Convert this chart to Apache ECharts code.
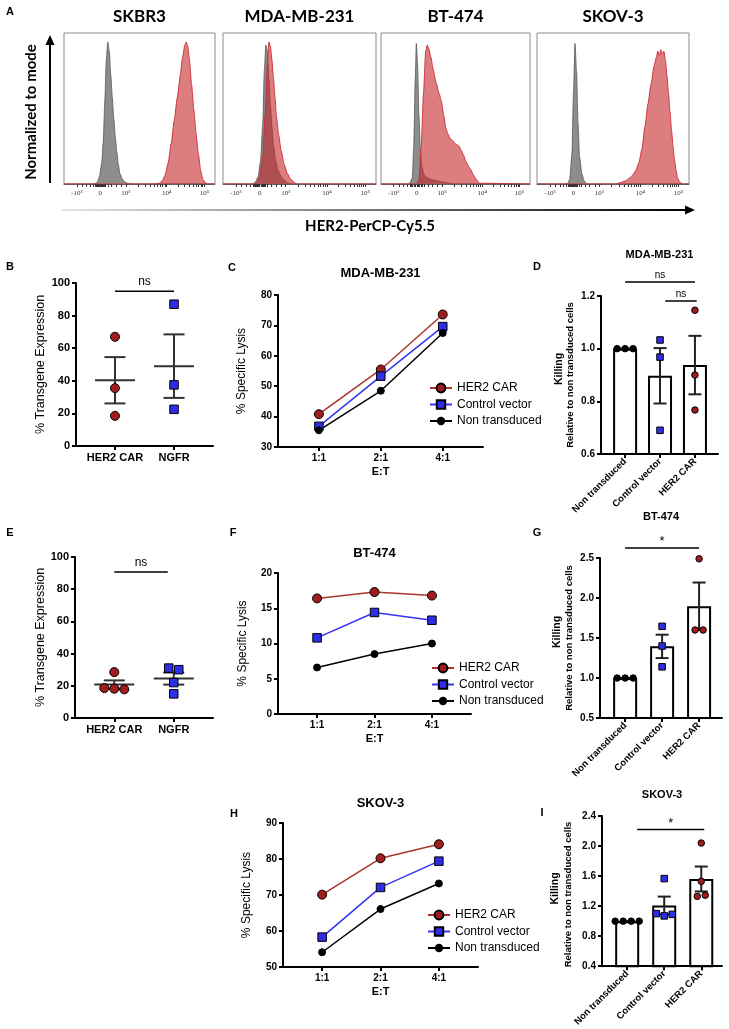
<!DOCTYPE html>
<html><head><meta charset="utf-8">
<script src="https://cdn.jsdelivr.net/npm/echarts@6/dist/echarts.min.js"></script>
<style>html,body{margin:0;padding:0;background:#fff}#c{width:729px;height:1029px}</style>
</head><body><div id="c"></div>
<script>
// ================= DATA =================
// Panel A: flow histograms (x = display position 0-100 across the plot, y = % of mode)
const cellLines = ['SKBR3', 'MDA-MB-231', 'BT-474', 'SKOV-3'];
const histTickPos = [8.5, 24, 41, 68, 93];
const histTickLabels = ['-10³', '0', '10³', '10⁴', '10⁵'];

const skbr3IsoX = [0, 20, 22, 23.5, 25, 26, 27, 28, 29, 30, 31, 32, 33, 34, 35, 36, 37, 38.5, 40, 42, 45, 100];
const skbr3IsoY = [0, 0, 1, 5, 14, 28, 54, 82, 94, 88, 72, 57, 43, 31, 21, 13, 7, 3.5, 1.5, 0.5, 0, 0];
const skbr3Her2X = [0, 60, 63, 65, 67, 69, 71, 73, 75, 77, 78.5, 80, 81, 82, 83, 84.5, 86, 87.5, 89, 90.5, 92, 93.5, 95, 100];
const skbr3Her2Y = [0, 0, 0.5, 2, 6, 14, 27, 42, 57, 72, 84, 92, 94, 91, 83, 66, 49, 33, 20, 9, 3, 1, 0, 0];

const mdaIsoX = [0, 19, 21, 23, 24.5, 26, 27, 28, 29, 30, 31, 32, 33, 34.5, 36, 38, 40, 42, 44, 100];
const mdaIsoY = [0, 0, 1, 5, 15, 40, 75, 92, 88, 70, 52, 38, 25, 15, 9, 5, 2.5, 1, 0, 0];
const mdaHer2X = [0, 20, 22, 24, 26, 27.5, 29, 30, 31, 32, 33, 34, 35, 36.5, 38, 40, 42, 44, 46, 48, 100];
const mdaHer2Y = [0, 0, 1, 5, 18, 45, 80, 94, 91, 82, 70, 57, 44, 32, 22, 13, 7, 3.5, 1.5, 0, 0];

const btIsoX = [0, 19, 21, 22, 23, 23.7, 24.5, 25.5, 26.5, 27.5, 29, 31, 34, 38, 43, 48, 100];
const btIsoY = [0, 0, 4, 25, 70, 93, 80, 45, 22, 11, 6, 4, 3, 2, 1, 0, 0];
const btHer2X = [0, 24, 25.5, 27, 28.5, 30, 31, 32, 33.5, 35, 37, 39, 40.5, 42, 43.5, 45, 46.5, 48, 49.5, 51, 52.5, 54, 55.5, 57, 58.5, 60, 62, 64, 66, 100];
const btHer2Y = [0, 0, 3, 25, 60, 88, 92, 90, 84, 76, 67, 60, 55, 46, 37, 33, 30, 29, 27, 26, 25, 22, 19, 15, 12, 10, 6, 3, 0.5, 0];

const skovIsoX = [0, 20, 21.5, 23, 24, 25, 26, 27, 28, 29.5, 31, 33, 100];
const skovIsoY = [0, 0, 3, 20, 60, 93, 75, 40, 18, 7, 2, 0, 0];
const skovHer2X = [0, 52, 55, 58, 61, 63, 65, 67, 69, 71, 73, 75, 77, 78.5, 79.5, 80.5, 81.5, 82.5, 83.5, 84.5, 85.5, 86.5, 87.5, 88.5, 89.5, 90.5, 91.5, 92.5, 94, 96, 100];
const skovHer2Y = [0, 0, 1, 2, 4, 6, 9, 14, 23, 38, 53, 66, 78, 84, 88, 85, 89, 86, 88, 82, 72, 60, 48, 36, 25, 16, 9, 4, 1, 0, 0];

// Panels B / E: % transgene expression
const transGroups = ['HER2 CAR', 'NGFR'];
const bHer2Car = [67, 35.5, 18.5];
const bNgfr = [87, 37.5, 22.5];
const eHer2Car = [28.5, 18.6, 18.2, 17.8];
const eNgfr = [31, 30, 22, 15];

// Panels C / F / H: % specific lysis
const etRatios = ['1:1', '2:1', '4:1'];
const lysisSeriesNames = ['HER2 CAR', 'Control vector', 'Non transduced'];
const cHer2Car = [40.8, 55.5, 73.6];
const cControl = [36.8, 53.3, 69.6];
const cNonTrans = [35.5, 48.5, 67.5];
const fHer2Car = [16.4, 17.3, 16.8];
const fControl = [10.8, 14.4, 13.3];
const fNonTrans = [6.6, 8.5, 10.0];
const hHer2Car = [70.1, 80.2, 84.1];
const hControl = [58.3, 72.1, 79.4];
const hNonTrans = [54.1, 66.1, 73.2];

// Panels D / G / I: killing relative to non transduced
const killGroups = ['Non transduced', 'Control vector', 'HER2 CAR'];
const dNonTrans = [1, 1, 1];
const dControl = [1.033, 0.968, 0.69];
const dHer2Car = [1.146, 0.9, 0.767];
const gNonTrans = [1, 1, 1];
const gControl = [1.646, 1.40, 1.14];
const gHer2Car = [2.49, 1.60, 1.60];
const iNonTrans = [1, 1, 1, 1];
const iControl = [1.567, 1.10, 1.07, 1.09];
const iHer2Car = [2.04, 1.53, 1.33, 1.345];

// Significance annotations
const sigB = [{ from: 0, to: 1, y: 95, label: 'ns' }];
const sigE = [{ from: 0, to: 0.9, y: 90.7, label: 'ns' }];
const sigD = [{ from: 0, to: 2, y: 1.253, label: 'ns' }, { from: 1.15, to: 2.05, y: 1.181, label: 'ns' }];
const sigG = [{ from: 0, to: 2, y: 2.625, label: '*' }];
const sigI = [{ from: 0.27, to: 2.08, y: 2.22, label: '*' }];

// ================= HELPERS =================
const FONT = "'Liberation Sans', Arial, Helvetica, sans-serif";
const TFONT = "Lato, 'Open Sans', sans-serif";
const RED_LINE = '#a8362f', RED_FILL = '#a11d1d', BLUE_LINE = '#3434f2', BLUE_FILL = '#2e2ee6';

const grids = [], xAxes = [], yAxes = [], series = [], legends = [], graphics = [];
function zip(a, b) { return a.map((v, i) => [v, b[i]]); }
function stats(v) {
  const n = v.length, m = v.reduce((a, b) => a + b, 0) / n;
  const sd = Math.sqrt(v.reduce((a, b) => a + (b - m) * (b - m), 0) / (n - 1));
  return { mean: m, sem: sd / Math.sqrt(n) };
}
function swarm(vals, tol) {
  const n = vals.length, off = new Array(n).fill(0), used = new Array(n).fill(false);
  for (let i = 0; i < n; i++) {
    if (used[i]) continue;
    const cl = [i]; used[i] = true;
    for (let j = i + 1; j < n; j++) if (!used[j] && Math.abs(vals[j] - vals[i]) < tol) { cl.push(j); used[j] = true; }
    cl.forEach((k, m) => off[k] = m - (cl.length - 1) / 2);
  }
  return off;
}
const axLine = { show: true, onZero: false, lineStyle: { color: '#000', width: 2 } };
const axTick = { show: true, inside: false, length: 4, lineStyle: { color: '#000', width: 2 } };
function addPanel(box, cats, xmin, xmax, ymin, ymax, yint, o) {
  const gi = grids.length;
  grids.push({ left: box[0], top: box[1], width: box[2], height: box[3], containLabel: false });
  const ticks = cats.map((c, i) => i);
  xAxes.push({
    gridIndex: gi, type: 'value', min: xmin, max: xmax, z: 10,
    axisLine: axLine, splitLine: { show: false },
    axisTick: Object.assign({}, axTick, { customValues: ticks }),
    axisLabel: {
      customValues: ticks, formatter: v => cats[Math.round(v)], color: '#000', fontFamily: FONT,
      fontWeight: 'bold', fontSize: o.xFont, margin: o.xMargin, rotate: o.rotate || 0
    },
    name: o.xName || '', nameLocation: 'middle', nameGap: o.nameGap || 20,
    nameTextStyle: { color: '#000', fontFamily: FONT, fontWeight: 'bold', fontSize: 11 }
  });
  yAxes.push({
    gridIndex: gi, type: 'value', min: ymin, max: ymax, interval: yint, z: 10,
    axisLine: axLine, axisTick: axTick, splitLine: { show: false },
    axisLabel: {
      color: '#000', fontFamily: FONT, fontWeight: 'bold', fontSize: o.yFont, margin: 6,
      formatter: o.yFmt || (v => String(v))
    }
  });
  return gi;
}
function meanSem(gi, groups, halfMean, halfCap, color) {
  return {
    type: 'custom', xAxisIndex: gi, yAxisIndex: gi, z: 3, silent: true,
    data: groups.map((vals, i) => { const s = stats(vals); return [i, s.mean, s.mean - s.sem, s.mean + s.sem]; }),
    renderItem: (p, api) => {
      const x = api.value(0);
      const c = api.coord([x, api.value(1)]), lo = api.coord([x, api.value(2)]), hi = api.coord([x, api.value(3)]);
      const st = { stroke: color, lineWidth: 2 };
      const ch = [];
      if (halfMean) ch.push({ type: 'line', shape: { x1: c[0] - halfMean, y1: c[1], x2: c[0] + halfMean, y2: c[1] }, style: st });
      ch.push({ type: 'line', shape: { x1: c[0], y1: lo[1], x2: c[0], y2: hi[1] }, style: st });
      ch.push({ type: 'line', shape: { x1: c[0] - halfCap, y1: lo[1], x2: c[0] + halfCap, y2: lo[1] }, style: st });
      ch.push({ type: 'line', shape: { x1: c[0] - halfCap, y1: hi[1], x2: c[0] + halfCap, y2: hi[1] }, style: st });
      return { type: 'group', children: ch };
    }
  };
}
function points(gi, groups, styles, tol, step, tag) {
  groups.forEach((vals, g) => {
    const off = swarm(vals, tol), st = styles[g];
    series.push({
      type: 'scatter', name: tag + '-' + g, xAxisIndex: gi, yAxisIndex: gi, z: 5, silent: true,
      symbol: st.symbol, symbolSize: st.size,
      itemStyle: { color: st.fill, borderColor: '#000', borderWidth: 1, opacity: 1 },
      data: vals.map((v, k) => ({ value: [g, v], symbolOffset: [off[k] * step, 0] }))
    });
  });
}
function sig(gi, items, fontSize, gap) {
  series.push({
    type: 'custom', xAxisIndex: gi, yAxisIndex: gi, z: 6, silent: true, clip: false,
    data: items.map(s => [s.from, s.to, s.y]),
    renderItem: (p, api) => {
      const a = api.coord([api.value(0), api.value(2)]), b = api.coord([api.value(1), api.value(2)]);
      return {
        type: 'group', children: [
          { type: 'line', shape: { x1: a[0], y1: a[1], x2: b[0], y2: b[1] }, style: { stroke: '#000', lineWidth: 1.5 } },
          { type: 'text', style: { text: items[p.dataIndex].label, x: (a[0] + b[0]) / 2, y: a[1] - gap, align: 'center', verticalAlign: 'bottom', fontSize: fontSize, fontFamily: FONT, fill: '#000' } }
        ]
      };
    }
  });
}
function text(x, y, t, size, weight, family, rot, align) {
  graphics.push({
    type: 'text', x: x, y: y, rotation: rot || 0, silent: true,
    style: { text: t, fontSize: size, fontWeight: weight || 'normal', fontFamily: family || FONT, fill: '#000', align: align || 'center', verticalAlign: 'middle' }
  });
}

// ================= PANEL A =================
const histBoxes = [[64, 33, 151, 151], [223, 33, 153, 151], [381, 33, 149, 151], [537, 33, 152, 151]];
const histData = [
  [skbr3IsoX, skbr3IsoY, skbr3Her2X, skbr3Her2Y],
  [mdaIsoX, mdaIsoY, mdaHer2X, mdaHer2Y],
  [btIsoX, btIsoY, btHer2X, btHer2Y],
  [skovIsoX, skovIsoY, skovHer2X, skovHer2Y]
];
// decorative minor ticks of the biexponential axis
const histMinor = [12, 15, 17.5, 19.5, 20.5, 21.3, 22, 22.6, 23.2, 24.8, 25.4, 26, 26.7, 27.5, 29, 31.5, 34.5, 38];
for (let k = 2; k < 10; k++) { histMinor.push(41 + Math.log10(k) * 27); histMinor.push(68 + Math.log10(k) * 25); }
histData.forEach((h, i) => {
  const b = histBoxes[i], gi = grids.length;
  grids.push({ left: b[0], top: b[1], width: b[2], height: b[3], show: true, borderColor: '#8c8c8c', borderWidth: 1, backgroundColor: '#fff' });
  xAxes.push({
    gridIndex: gi, type: 'value', min: 0, max: 100, splitLine: { show: false },
    axisLine: { show: true, lineStyle: { color: '#666', width: 1 } },
    axisTick: { show: true, customValues: histTickPos.concat(histMinor), length: 3, lineStyle: { color: '#333', width: 1 } },
    axisLabel: { customValues: histTickPos, formatter: v => histTickLabels[histTickPos.indexOf(v)], fontSize: 7, color: '#333', fontFamily: "'Liberation Serif', serif", margin: 6 }
  });
  yAxes.push({ gridIndex: gi, type: 'value', min: 0, max: 100, show: false });
  series.push({
    type: 'line', name: 'iso-' + i, xAxisIndex: gi, yAxisIndex: gi, data: zip(h[0], h[1]), symbol: 'none', silent: true,
    smooth: 0.2, smoothMonotone: 'x', z: 2, lineStyle: { color: '#555', width: 0.8 }, areaStyle: { color: '#8d8d8d', opacity: 1 }
  });
  series.push({
    type: 'line', name: 'her2-' + i, xAxisIndex: gi, yAxisIndex: gi, data: zip(h[2], h[3]), symbol: 'none', silent: true,
    smooth: 0.2, smoothMonotone: 'x', z: 3, lineStyle: { color: '#cf2a2f', width: 0.9 }, areaStyle: { color: 'rgba(196,40,44,0.6)', opacity: 1 }
  });
  text(b[0] + b[2] / 2, 17, cellLines[i], 17, 'bold', TFONT);
});
text(10, 12, 'A', 11, 'bold');
text(31, 112, 'Normalized to mode', 15, 'bold', TFONT, Math.PI / 2);
text(370, 226, 'HER2-PerCP-Cy5.5', 15, 'bold', TFONT);
graphics.push({ type: 'line', silent: true, shape: { x1: 50, y1: 183, x2: 50, y2: 44 }, style: { stroke: '#000', lineWidth: 2 } });
graphics.push({ type: 'polygon', silent: true, shape: { points: [[45.5, 45], [54.5, 45], [50, 35]] }, style: { fill: '#000' } });
graphics.push({
  type: 'line', silent: true, shape: { x1: 62, y1: 210, x2: 686, y2: 210 },
  style: { lineWidth: 2, stroke: new echarts.graphic.LinearGradient(0, 0, 1, 0, [{ offset: 0, color: '#e6e6e6' }, { offset: 1, color: '#000' }]) }
});
graphics.push({ type: 'polygon', silent: true, shape: { points: [[685, 205.5], [685, 214.5], [695, 210]] }, style: { fill: '#000' } });

// ================= PANELS B / E =================
const transStyles = [{ symbol: 'circle', size: 9, fill: RED_FILL }, { symbol: 'rect', size: 8.5, fill: BLUE_FILL }];
[[[76, 283, 137, 163], [bHer2Car, bNgfr], sigB, 'B', 267], [[75, 557, 138, 161], [eHer2Car, eNgfr], sigE, 'E', 533]].forEach(p => {
  const gi = addPanel(p[0], transGroups, -0.66, 1.66, 0, 100, 20, { xFont: 11, yFont: 11, xMargin: 6 });
  series.push(meanSem(gi, p[1], 20, 10.5, '#333'));
  points(gi, p[1], transStyles, 5, 10, p[3]);
  sig(gi, p[2], 12, 3);
  text(10, p[4], p[3], 11, 'bold');
  text(41, p[0][1] + p[0][3] / 2, '% Transgene Expression', 12.5, 'normal', FONT, Math.PI / 2);
});

// ================= PANELS C / F / H =================
const lysisDefs = [
  { line: RED_LINE, fill: RED_FILL, symbol: 'circle', size: 9, legendH: 11 },
  { line: BLUE_LINE, fill: BLUE_FILL, symbol: 'rect', size: 8.5, legendH: 10.5 },
  { line: '#000', fill: '#000', symbol: 'circle', size: 7, legendH: 8 }
];
[
  [[278, 295, 205, 152], -0.66, 2.65, 30, 80, 10, [cHer2Car, cControl, cNonTrans], 'C', [232, 268], 'MDA-MB-231', 273, [440, 388], 242],
  [[278, 573, 193, 141], -0.68, 2.68, 0, 20, 5, [fHer2Car, fControl, fNonTrans], 'F', [233, 533], 'BT-474', 553, [442, 668], 243],
  [[283, 823, 195, 144], -0.67, 2.67, 50, 90, 10, [hHer2Car, hControl, hNonTrans], 'H', [234, 814], 'SKOV-3', 803, [438, 915], 247]
].forEach(p => {
  const b = p[0];
  const gi = addPanel(b, etRatios, p[1], p[2], p[3], p[4], p[5], { xFont: 10, yFont: 10, xMargin: 6, xName: 'E:T', nameGap: 19 });
  p[6].forEach((vals, k) => {
    const d = lysisDefs[k];
    series.push({
      type: 'line', name: lysisSeriesNames[k], xAxisIndex: gi, yAxisIndex: gi, z: 4, silent: true,
      data: vals.map((v, i) => [i, v]), symbol: d.symbol, symbolSize: d.size,
      lineStyle: { color: d.line, width: 1.5 }, itemStyle: { color: d.fill, borderColor: '#000', borderWidth: 1 }
    });
    // one legend entry per series so that each icon keeps its own marker size
    legends.push({
      left: p[11][0] - 11, top: p[11][1] + k * 16.5 - 7, orient: 'vertical', padding: 0,
      itemWidth: 22, itemHeight: d.legendH, selectedMode: false, data: [lysisSeriesNames[k]],
      textStyle: { fontFamily: FONT, fontSize: 12, color: '#000', lineHeight: 14 }
    });
  });
  text(p[8][0], p[8][1], p[7], 11, 'bold');
  text(b[0] + b[2] / 2, p[10], p[9], 13, 'bold');
  text(p[12], b[1] + b[3] / 2, '% Specific Lysis', 12, 'normal', FONT, Math.PI / 2);
});

// ================= PANELS D / G / I =================
const killStyles = [{ symbol: 'circle', size: 6.5, fill: '#000' }, { symbol: 'rect', size: 6.5, fill: BLUE_FILL }, { symbol: 'circle', size: 6.5, fill: RED_FILL }];
[
  [[601, 296, 117, 158], -0.69, 2.66, 0.6, 1.2, 0.2, [dNonTrans, dControl, dHer2Car], sigD, 'D', [537, 267], 'MDA-MB-231', 255, 0.023, [559, 570]],
  [[600, 558, 122, 160], -0.68, 2.62, 0.5, 2.5, 0.5, [gNonTrans, gControl, gHer2Car], sigG, 'G', [537, 533], 'BT-474', 517, 0.075, [557, 569]],
  [[602, 816, 120, 157], -0.68, 2.56, 0.4, 2.4, 0.4, [iNonTrans, iControl, iHer2Car], sigI, 'I', [542, 813], 'SKOV-3', 795, 0.077, [555, 568]]
].forEach(p => {
  const b = p[0];
  const gi = addPanel(b, killGroups, p[1], p[2], p[3], p[4], p[5], { xFont: 9.5, yFont: 10, xMargin: 6, rotate: 45, yFmt: v => v.toFixed(1) });
  series.push({
    type: 'bar', name: p[8] + '-bars', xAxisIndex: gi, yAxisIndex: gi, z: 2, silent: true, barWidth: 24,
    data: p[6].map((vals, i) => [i, stats(vals).mean]),
    itemStyle: { color: '#fff', borderColor: '#000', borderWidth: 2 }
  });
  series.push(meanSem(gi, p[6], 0, 6.5, '#222'));
  points(gi, p[6], killStyles, p[12], 8, p[8]);
  sig(gi, p[7], p[7][0].label === '*' ? 13 : 10, p[7][0].label === '*' ? 0 : 2);
  text(p[9][0], p[9][1], p[8], 11, 'bold');
  text(b[0] + b[2] / 2, p[11], p[10], 11, 'bold');
  const cy = b[1] + b[3] / 2;
  text(p[13][0], cy - 6, 'Killing', 10.5, 'bold', FONT, Math.PI / 2);
  text(p[13][1], cy, 'Relative to non transduced cells', 9.5, 'bold', FONT, Math.PI / 2);
});

// ================= RENDER =================
const chart = echarts.init(document.getElementById('c'), null, { renderer: 'canvas', width: 729, height: 1029 });
chart.setOption({
  animation: false, backgroundColor: '#fff',
  grid: grids, xAxis: xAxes, yAxis: yAxes, series: series, legend: legends, graphic: graphics
});
</script></body></html>
